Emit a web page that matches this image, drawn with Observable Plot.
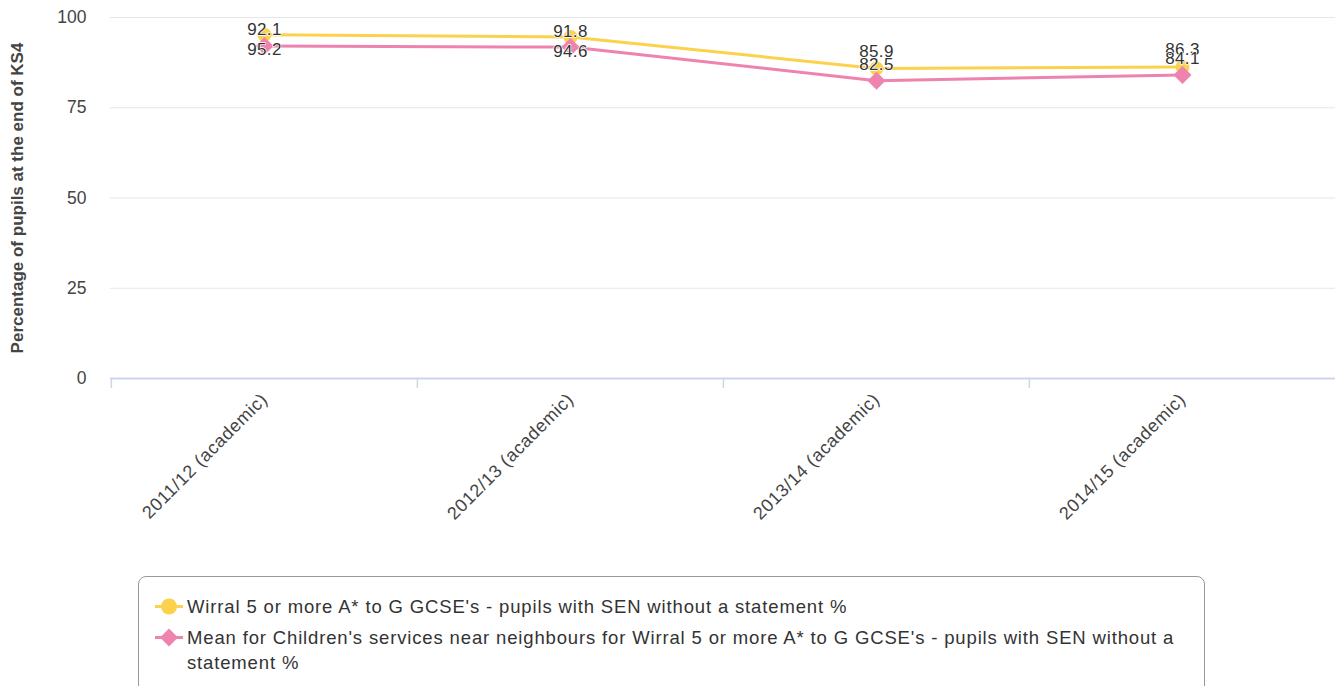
<!DOCTYPE html>
<html>
<head>
<meta charset="utf-8">
<script src="https://cdn.jsdelivr.net/npm/d3@7"></script>
<script src="https://cdn.jsdelivr.net/npm/@observablehq/plot@0.6"></script>
<style>
  body { margin: 0; background: #fff; font-family: "Liberation Sans", Arial, sans-serif; }
  #chart { position: relative; width: 1335px; height: 686px; overflow: hidden; }
  #legend { position: absolute; left: 138px; top: 576px; width: 1067px; height: 130px;
            border: 1px solid #999; border-radius: 8px; box-sizing: border-box;
            padding: 17px 10px 0 16px; color: #333; font-size: 18.5px; letter-spacing: 0.85px; }
  .item { display: flex; align-items: flex-start; margin-bottom: 6px; }
  .item svg { flex: none; margin-right: 4px; }
  .item span { line-height: 25px; max-width: 1008px; }
  .xl text { letter-spacing: 0.6px; }
  .dl text { letter-spacing: 0.4px; }
</style>
</head>
<body>
<div id="chart"><div id="legend"></div></div>
<script>
const categories = ["2011/12 (academic)", "2012/13 (academic)", "2013/14 (academic)", "2014/15 (academic)"];
const wirral = [95.2, 94.6, 85.9, 86.3];
const neighbours = [92.1, 91.8, 82.5, 84.1];
const seriesNames = [
  "Wirral 5 or more A* to G GCSE's - pupils with SEN without a statement %",
  "Mean for Children's services near neighbours for Wirral 5 or more A* to G GCSE's - pupils with SEN without a statement %"
];
const yTicks = [0, 25, 50, 75, 100];
const yTitle = "Percentage of pupils at the end of KS4";
const colors = ["#fcd14c", "#ef83af"];

const rowsW = categories.map((c, i) => ({cat: c, value: wirral[i]}));
const rowsN = categories.map((c, i) => ({cat: c, value: neighbours[i]}));

const W = 1335, H = 560, mL = 110, mT = 17, mB = H - 378;
const bw = (W - mL) / categories.length;
// labels that would run past the top of the plot are flipped below the point
const nearTop = d => d.value > 93;
const fmt = d => d.value.toFixed(1);

const chart = Plot.plot({
  width: W, height: H,
  marginLeft: mL, marginRight: 0, marginTop: mT, marginBottom: mB,
  style: {fontFamily: '"Liberation Sans", Arial, sans-serif', fontSize: "17px", color: "#444", background: "transparent"},
  x: {type: "band", domain: categories, padding: 0},
  y: {domain: [0, 100]},
  marks: [
    Plot.gridY(yTicks.slice(1), {stroke: "#e6e6e6", strokeOpacity: 1, strokeWidth: 1}),
    Plot.axisY(yTicks, {tickSize: 0, tickPadding: 24, label: null, fill: "#444", fontSize: 17.5}),
    Plot.ruleY([0], {stroke: "#ccd6eb", strokeWidth: 2}),
    Plot.axisX({tickSize: 10, dx: -bw / 2, text: null, stroke: "#ccd6eb", strokeWidth: 1.5, label: null}),
    Plot.axisX({tickSize: 0, tickRotate: -45, tickPadding: 18, label: null, fill: "#444", fontSize: 18, className: "xl"}),
    Plot.text([yTitle], {frameAnchor: "left", rotate: -90, dx: -93, textAnchor: "middle", fontWeight: "bold", fill: "#444", fontSize: 17}),
    Plot.line(rowsW, {x: "cat", y: "value", stroke: colors[0], strokeWidth: 3}),
    Plot.dot(rowsW, {x: "cat", y: "value", symbol: "circle", r: 7, fill: colors[0], stroke: "none"}),
    Plot.line(rowsN, {x: "cat", y: "value", stroke: colors[1], strokeWidth: 3}),
    Plot.dot(rowsN, {x: "cat", y: "value", symbol: "diamond2", r: 8.1, fill: colors[1], stroke: "none"}),
    Plot.text(rowsW.filter(d => !nearTop(d)), {x: "cat", y: "value", text: fmt, dy: -17, fill: "#333", stroke: "white", strokeWidth: 1.5, fontSize: 17, className: "dl"}),
    Plot.text(rowsW.filter(nearTop), {x: "cat", y: "value", text: fmt, dy: 15, fill: "#333", stroke: "white", strokeWidth: 1.5, fontSize: 17, className: "dl"}),
    Plot.text(rowsN, {x: "cat", y: "value", text: fmt, dy: -16, fill: "#333", stroke: "white", strokeWidth: 1.5, fontSize: 17, className: "dl"})
  ]
});
document.getElementById("chart").prepend(chart);

const legend = document.getElementById("legend");
const syms = [
  `<svg width="28" height="25"><line x1="0" x2="28" y1="12.5" y2="12.5" stroke="${colors[0]}" stroke-width="3"/><circle cx="14" cy="12.5" r="8" fill="${colors[0]}"/></svg>`,
  `<svg width="28" height="25"><line x1="0" x2="28" y1="12.5" y2="12.5" stroke="${colors[1]}" stroke-width="3"/><path d="M14,3.5L23,12.5L14,21.5L5,12.5Z" fill="${colors[1]}"/></svg>`
];
seriesNames.forEach((name, i) => {
  const div = document.createElement("div");
  div.className = "item";
  div.innerHTML = syms[i];
  const span = document.createElement("span");
  span.textContent = name;
  div.appendChild(span);
  legend.appendChild(div);
});
</script>
</body>
</html>
